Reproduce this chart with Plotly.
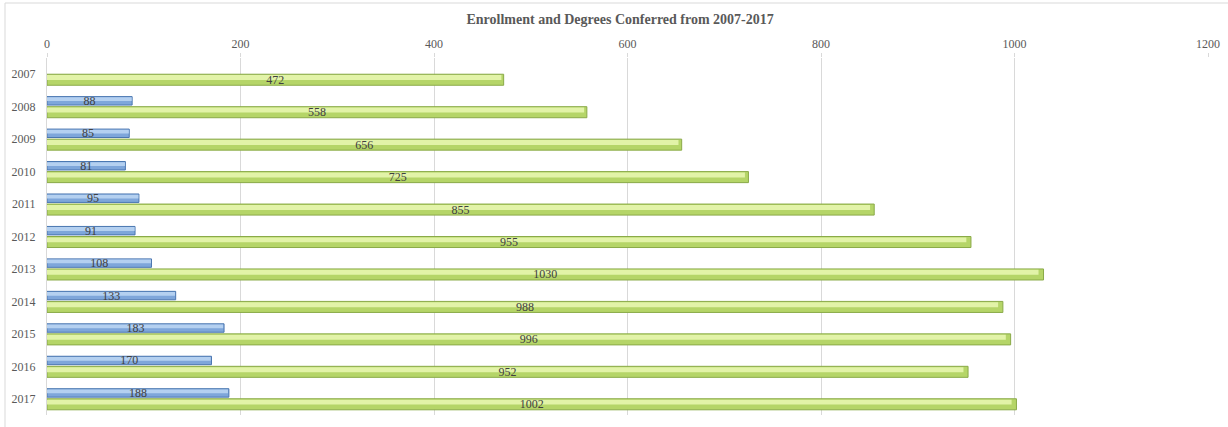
import plotly.graph_objects as go

# Academic years shown on the category axis
years = ["2007", "2008", "2009", "2010", "2011", "2012",
         "2013", "2014", "2015", "2016", "2017"]

# Degrees conferred per year (no figure reported for 2007)
degrees = [None, 88, 85, 81, 95, 91, 108, 133, 183, 170, 188]

# Total enrollment per year
enrollment = [472, 558, 656, 725, 855, 955, 1030, 988, 996, 952, 1002]

x_ticks = [0, 200, 400, 600, 800, 1000, 1200]

SERIF = "Liberation Serif, Times New Roman, serif"
GRID = "#d9d9d9"
TEXT = "#595959"
LABEL = "#404040"


def bar_series(name, values, offset, width, fill, edge, shine):
    """A bar series: darker body, lighter upper sheen, then value labels."""
    body = go.Bar(
        name=name, y=years, x=values, orientation="h",
        width=width, offset=offset,
        marker=dict(color=fill, line=dict(color=edge, width=1)),
        hoverinfo="x+y",
    )
    sheen = go.Bar(
        name=name, y=years,
        x=[(None if v is None else v * 0.995) for v in values],
        orientation="h",
        width=width * 0.45, offset=offset + width * 0.08,
        marker=dict(color=shine, line=dict(width=0)),
        hoverinfo="skip",
    )
    labels = go.Bar(
        name=name, y=years, x=values, orientation="h",
        width=width, offset=offset,
        marker=dict(color="rgba(0,0,0,0)", line=dict(width=0)),
        hoverinfo="skip",
        text=[("" if v is None else str(v)) for v in values],
        textposition="inside",
        insidetextanchor="middle",
        textangle=0,
        textfont=dict(family=SERIF, size=12, color=LABEL),
        constraintext="none",
    )
    return [body, sheen, labels]


fig = go.Figure()
fig.add_traces(bar_series("Degrees Conferred", degrees, -0.31, 0.26,
                          "#7ea6da", "#4a76b0", "#b4d0f0"))
fig.add_traces(bar_series("Enrollment", enrollment, 0.0, 0.34,
                          "#b5d568", "#8aaa48", "#e2f3a8"))

fig.update_layout(
    width=1228,
    height=427,
    margin=dict(l=47, r=20, t=58, b=12),
    paper_bgcolor="white",
    plot_bgcolor="white",
    barmode="overlay",
    showlegend=False,
    uniformtext=dict(minsize=12, mode="show"),
    title=dict(
        text="<b>Enrollment and Degrees Conferred from 2007-2017</b>",
        font=dict(family=SERIF, size=14, color=TEXT),
        x=0.505, xref="container", xanchor="center",
        y=1 - 19 / 427, yref="container", yanchor="middle",
    ),
    xaxis=dict(
        side="top",
        range=[0, 1200],
        tickvals=x_ticks,
        ticktext=[str(t) for t in x_ticks],
        showgrid=True,
        gridcolor=GRID,
        gridwidth=1,
        zeroline=False,
        ticks="outside",
        ticklen=4,
        tickcolor=GRID,
        tickfont=dict(family=SERIF, size=12, color=TEXT),
        showline=False,
        automargin=False,
    ),
    yaxis=dict(
        autorange="reversed",
        showgrid=False,
        zeroline=False,
        showline=True,
        linecolor=GRID,
        ticks="",
        ticklabelstandoff=8,
        tickfont=dict(family=SERIF, size=12, color=TEXT),
        automargin=False,
    ),
    shapes=[dict(
        type="rect", xref="paper", yref="paper",
        x0=-42 / 1161, x1=1.05, y0=-0.2, y1=1 + 55 / 357,
        line=dict(color=GRID, width=1), fillcolor="rgba(0,0,0,0)",
        layer="below",
    )],
)

fig.write_html("out.html")
